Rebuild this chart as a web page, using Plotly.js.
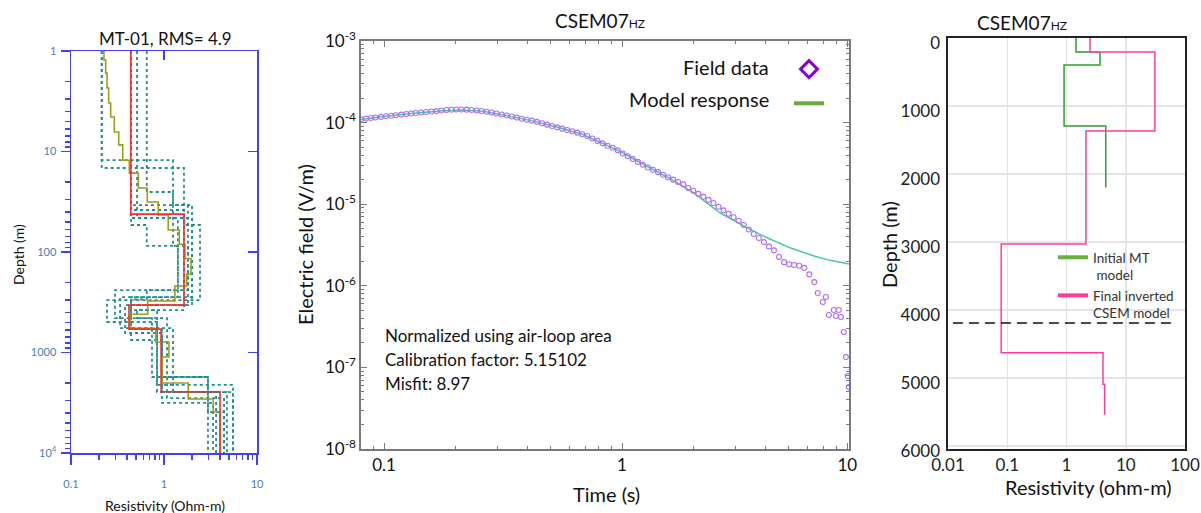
<!DOCTYPE html>
<html><head><meta charset="utf-8">
<script src="https://cdn.plot.ly/plotly-3.0.1.min.js"></script>
<style>html,body{margin:0;padding:0;background:#fff}#chart{width:1201px;height:513px}</style>
</head><body><div id="chart"></div>
<script>
// ---------- Panel 1 : MT-01 1D models (resistivity per layer, layer-bottom depths) ----------
const mtFinalRho = [0.44, 1.64, 0.42, 0.93, 4.0];
const mtFinalDepth = [42, 337, 585, 2460];
const mtSmoothRho = [0.226,0.236,0.244,0.254,0.267,0.292,0.326,0.360,0.424,0.530,0.661,0.869,1.11,1.46,1.68,1.95,1.75,1.31,0.668,0.43,0.815,1.13,0.96,1.82,3.39,4.0];
const mtSmoothDepth = [1.23,1.66,2.33,3.29,4.54,6.4,8.6,12.2,16.4,23.1,31.8,42.8,60.4,83.8,116,167,218,307,417,575,786,1109,2010,2900,3910];
const mtSampleRho = [
  [0.214,1.25,1.81,0.297,0.743,2.97],
  [0.214,1.64,2.44,0.244,0.841,5.52],
  [0.652,1.25,1.41,0.337,1.25,4.75],
  [0.442,2.0,0.381,0.951,3.37],
  [0.442,1.64,0.513,1.077,4.42],
  [0.442,2.0,0.442,0.841,3.63],
  [0.513,1.41,0.652,0.442,0.951,2.97,4.42],
  [0.442,0.652,1.81,0.442,0.951,5.52]
];
const mtSampleDepth = [
  [12.2,34,239,454,1754],
  [14.6,53.9,301,497,2104],
  [25.3,87,281,571,2474],
  [34.1,337,640,3177],
  [38.2,378,454,2838],
  [45.9,281,378,2474],
  [45.9,239,297,571,1754,3909],
  [53.9,87,337,751,2474]
];
const mtTop = 1, mtBottom = 10000;
const mtRhoTicks = [0.1, 1, 10];
const mtRhoTickText = ['0.1', '1', '10'];
const mtDepthTicks = [1, 10, 100, 1000, 10000];
const mtDepthTickText = ['1', '10', '100', '1000', '10<sup>4</sup>'];

// ---------- Panel 2 : CSEM07 HZ transient ----------
const fieldTime = [0.080,0.084,0.088,0.092,0.097,0.102,0.107,0.112,0.118,0.124,0.130,0.136,0.143,0.150,0.158,0.166,0.174,0.183,0.192,0.201,0.211,0.222,0.233,0.245,0.257,0.270,0.283,0.297,0.312,0.328,0.344,0.361,0.379,0.398,0.418,0.439,0.461,0.484,0.508,0.534,0.560,0.588,0.618,0.649,0.681,0.715,0.751,0.789,0.828,0.870,0.913,0.959,1.007,1.057,1.110,1.166,1.224,1.285,1.350,1.417,1.488,1.562,1.640,1.722,1.808,1.899,1.994,2.093,2.198,2.308,2.423,2.544,2.672,2.805,2.945,3.093,3.247,3.410,3.580,3.759,3.947,4.145,4.352,4.570,4.798,5.038,5.290,5.554,5.832,6.124,6.43,6.65,6.98,7.19,7.40,7.77,7.92,8.15,8.32,8.55,8.73,8.88,8.98];
const fieldE = [1.102e-4,1.119e-4,1.138e-4,1.153e-4,1.175e-4,1.194e-4,1.213e-4,1.233e-4,1.253e-4,1.274e-4,1.294e-4,1.312e-4,1.330e-4,1.346e-4,1.365e-4,1.384e-4,1.406e-4,1.426e-4,1.439e-4,1.445e-4,1.449e-4,1.442e-4,1.429e-4,1.409e-4,1.387e-4,1.358e-4,1.327e-4,1.294e-4,1.259e-4,1.222e-4,1.186e-4,1.151e-4,1.117e-4,1.084e-4,1.057e-4,1.021e-4,9.82e-5,9.44e-5,9.10e-5,8.75e-5,8.43e-5,8.13e-5,7.82e-5,7.53e-5,7.21e-5,6.84e-5,6.38e-5,5.97e-5,5.57e-5,5.21e-5,4.91e-5,4.57e-5,4.19e-5,3.87e-5,3.58e-5,3.30e-5,3.05e-5,2.82e-5,2.64e-5,2.47e-5,2.30e-5,2.14e-5,2.00e-5,1.87e-5,1.75e-5,1.58e-5,1.46e-5,1.34e-5,1.23e-5,1.13e-5,1.035e-5,9.31e-6,8.41e-6,7.62e-6,6.92e-6,6.28e-6,5.56e-6,4.89e-6,4.32e-6,3.85e-6,3.43e-6,3.04e-6,2.72e-6,2.26e-6,1.95e-6,1.84e-6,1.80e-6,1.76e-6,1.66e-6,1.38e-6,1.11e-6,8.17e-7,6.32e-7,7.29e-7,4.39e-7,5.05e-7,4.27e-7,5.05e-7,4.15e-7,2.72e-7,1.34e-7,7.85e-8,5.75e-8];
const modelTime = [0.080,0.100,0.130,0.170,0.210,0.260,0.330,0.420,0.540,0.680,0.850,1.00,1.25,1.60,2.00,2.59,3.37,4.09,5.12,6.40,7.50,9.00];
const modelE = [1.09e-4,1.19e-4,1.29e-4,1.39e-4,1.43e-4,1.38e-4,1.21e-4,1.05e-4,8.7e-5,7.2e-5,5.4e-5,4.3e-5,3.0e-5,2.04e-5,1.38e-5,7.8e-6,5.1e-6,3.85e-6,2.9e-6,2.32e-6,2.05e-6,1.85e-6];
const timeTicks = [0.1, 1, 8.85];
const timeTickText = ['0.1', '1', '10'];
const eTicks = [1e-8, 1e-7, 1e-6, 1e-5, 1e-4, 1e-3];
const eTickText = ['10<sup>-8</sup>','10<sup>-7</sup>','10<sup>-6</sup>','10<sup>-5</sup>','10<sup>-4</sup>','10<sup>-3</sup>'];
const infoLines = ['Normalized using air-loop area', 'Calibration factor: 5.15102', 'Misfit: 8.97'];

// ---------- Panel 3 : CSEM07 HZ models ----------
const initRho = [1.45, 3.67, 0.91, 4.6];
const initDepth = [206, 397, 1294];
const initTop = 0, initBottom = 2200;
const finalRho = [2.49, 31, 2.13, 0.079, 4.13, 4.4];
const finalDepth = [206, 1367, 3030, 4630, 5090];
const finalTop = 0, finalBottom = 5540;
const boundaryDepth = [4190, 4190];
const boundaryRho = [0.0121, 73];
const resTicks = [0.01, 0.1, 1, 10, 100];
const resTickText = ['0.01', '0.1', '1', '10', '100'];
const depthTicks = [0, 1000, 2000, 3000, 4000, 5000, 6000];

// ---------- helpers ----------
const W = 1201, H = 513;
const px = v => v / W;
const py = v => 1 - v / H;
function steps(rho, bounds, top, bottom) {
  return { x: rho.concat([rho[rho.length - 1]]), y: [top].concat(bounds, [bottom]) };
}
function minorVals(lo, hi) {
  const out = [];
  for (let e = lo; e < hi; e++) for (let m = 2; m <= 9; m++) out.push(+(m * Math.pow(10, e)).toPrecision(3));
  return out;
}

const BLUE = '#3f3fff', TICKBLUE = '#4a7ebb', GRAY = '#7a7a7a';
const traces = [];

// Panel 1 traces
mtSampleRho.forEach((r, i) => {
  const s = steps(r, mtSampleDepth[i], mtTop, mtBottom);
  traces.push({x: s.x, y: s.y, xaxis: 'x', yaxis: 'y', mode: 'lines', line: {shape: 'vh', color: '#1f8e8e', width: 1.8, dash: 'dot'}, showlegend: false, hoverinfo: 'skip'});
});
(function(){
  const s = steps(mtSmoothRho, mtSmoothDepth, mtTop, mtBottom);
  traces.push({x: s.x, y: s.y, xaxis: 'x', yaxis: 'y', mode: 'lines', line: {shape: 'vh', color: '#9c9c1e', width: 1.6}, showlegend: false});
  const f = steps(mtFinalRho, mtFinalDepth, mtTop, mtBottom);
  traces.push({x: f.x, y: f.y, xaxis: 'x', yaxis: 'y', mode: 'lines', line: {shape: 'vh', color: '#ff2a2a', width: 1.6}, showlegend: false});
})();
// helpers for top/right tick axes of panel 1
traces.push({x: [null], y: [null], xaxis: 'x4', yaxis: 'y', showlegend: false, hoverinfo: 'skip'});
traces.push({x: [null], y: [null], xaxis: 'x', yaxis: 'y4', showlegend: false, hoverinfo: 'skip'});

// Panel 2 traces
traces.push({x: modelTime, y: modelE, xaxis: 'x2', yaxis: 'y2', mode: 'lines', line: {color: '#46c9a2', width: 1.5}, showlegend: false});
traces.push({x: fieldTime, y: fieldE, xaxis: 'x2', yaxis: 'y2', mode: 'markers', marker: {symbol: 'circle-open', size: 5, color: '#b06ef0', line: {width: 1.1}}, showlegend: false});
// legend entries (symbols only; labels are annotations)
traces.push({x: [null], y: [null], xaxis: 'x2', yaxis: 'y2', mode: 'markers', name: ' ', legend: 'legend', marker: {symbol: 'diamond-open', size: 13, color: '#8a00d4', line: {width: 3, color: '#8a00d4'}}});
traces.push({x: [null], y: [null], xaxis: 'x2', yaxis: 'y2', mode: 'lines', name: ' ', legend: 'legend', line: {color: '#6aaa3c', width: 4}});

// Panel 3 traces
(function(){
  const a = steps(initRho, initDepth, initTop, initBottom);
  traces.push({x: a.x, y: a.y, xaxis: 'x3', yaxis: 'y3', mode: 'lines', line: {shape: 'vh', color: '#2e9e2e', width: 1.5}, showlegend: false});
  const b = steps(finalRho, finalDepth, finalTop, finalBottom);
  traces.push({x: b.x, y: b.y, xaxis: 'x3', yaxis: 'y3', mode: 'lines', line: {shape: 'vh', color: '#ff3c9e', width: 1.5}, showlegend: false});
  traces.push({x: boundaryRho, y: boundaryDepth, xaxis: 'x3', yaxis: 'y3', mode: 'lines', line: {color: '#111', width: 1.5, dash: '10px,6px'}, showlegend: false});
  traces.push({x: [null], y: [null], xaxis: 'x3', yaxis: 'y3', mode: 'lines', name: 'Initial MT<br> model', legend: 'legend2', line: {color: '#6cb040', width: 4}});
  traces.push({x: [null], y: [null], xaxis: 'x3', yaxis: 'y3', mode: 'lines', name: 'Final inverted<br>CSEM model', legend: 'legend2', line: {color: '#ff3c9e', width: 4}});
})();

const ann = (text, x, y, size, opts) => Object.assign({text, x: px(x), y: py(y), xref: 'paper', yref: 'paper', showarrow: false, font: {size, color: '#111'}, xanchor: 'center', yanchor: 'middle'}, opts || {});

const annotations = [
  ann('MT-01, RMS= 4.9', 165, 38, 17),
  ann('Depth (m)', 19, 255, 14, {textangle: -90}),
  ann('Resistivity (Ohm-m)', 165, 505, 14),
  ann('CSEM07<span style="font-size:12px">HZ</span>', 600, 20, 19),
  ann('Electric field (V/m)', 305, 245, 20, {textangle: -90}),
  ann('Time (s)', 606, 494, 20),
  ann(infoLines[0], 383, 335, 17, {xanchor: 'left'}),
  ann(infoLines[1], 383, 359, 17, {xanchor: 'left'}),
  ann(infoLines[2], 383, 383, 17, {xanchor: 'left'}),
  ann('Field data', 771, 67, 20, {xanchor: 'right'}),
  ann('Model response', 771, 99, 20, {xanchor: 'right'}),
  ann('CSEM07<span style="font-size:12px">HZ</span>', 1022, 23, 19),
  ann('Depth (m)', 889, 245, 20, {textangle: -90}),
  ann('Resistivity (ohm-m)', 1088, 487, 20)
];

const layout = {
  width: W, height: H,
  margin: {l: 0, r: 0, t: 0, b: 0},
  paper_bgcolor: '#fff', plot_bgcolor: 'rgba(0,0,0,0)',
  font: {family: 'Lato, "Open Sans", sans-serif', color: '#111'},
  showlegend: true,
  annotations,
  // Panel 1
  xaxis: {domain: [px(71), px(257)], anchor: 'y', type: 'log', range: [-1, 1], autorange: false,
    tickmode: 'array', tickvals: mtRhoTicks, ticktext: mtRhoTickText, ticks: 'outside', ticklen: 10, tickwidth: 1.5, tickcolor: BLUE,
    minor: {tickmode: 'array', tickvals: minorVals(-1, 1), ticks: 'outside', ticklen: 5, tickwidth: 1.5, tickcolor: BLUE, showgrid: false},
    showline: true, linecolor: BLUE, linewidth: 1.5, mirror: true, showgrid: false, zeroline: false,
    tickfont: {size: 11, color: TICKBLUE}, ticklabelstandoff: 10},
  yaxis: {domain: [py(453), py(51)], anchor: 'x', type: 'log', range: [4, 0], autorange: false,
    tickmode: 'array', tickvals: mtDepthTicks, ticktext: mtDepthTickText, ticks: 'outside', ticklen: 9, tickwidth: 1.5, tickcolor: BLUE,
    minor: {tickmode: 'array', tickvals: minorVals(0, 4), ticks: 'outside', ticklen: 5, tickwidth: 1.5, tickcolor: BLUE, showgrid: false},
    showline: true, linecolor: BLUE, linewidth: 1.5, mirror: true, showgrid: false, zeroline: false,
    tickfont: {size: 11, color: TICKBLUE}, ticklabelstandoff: 2},
  xaxis4: {overlaying: 'x', anchor: 'y', side: 'top', type: 'log', range: [-1, 1], autorange: false,
    tickmode: 'array', tickvals: [1], ticks: 'inside', ticklen: 9, tickwidth: 1.5, tickcolor: BLUE,
    showticklabels: false, showline: false, showgrid: false, zeroline: false},
  yaxis4: {overlaying: 'y', anchor: 'x', side: 'right', type: 'log', range: [4, 0], autorange: false,
    tickmode: 'array', tickvals: [10, 100, 1000], ticks: 'inside', ticklen: 9, tickwidth: 1.5, tickcolor: BLUE,
    showticklabels: false, showline: false, showgrid: false, zeroline: false},
  // Panel 2
  xaxis2: {domain: [px(361), px(849)], anchor: 'y2', type: 'log', range: [-1.097, 0.954], autorange: false,
    tickmode: 'array', tickvals: timeTicks, ticktext: timeTickText, ticks: 'inside', ticklen: 6, tickwidth: 1, tickcolor: GRAY,
    minor: {tickmode: 'array', tickvals: minorVals(-2, 1), ticks: 'inside', ticklen: 3, tickwidth: 1, tickcolor: GRAY, showgrid: false},
    showline: true, linecolor: GRAY, linewidth: 1.6, mirror: 'ticks', showgrid: false, zeroline: false,
    tickfont: {size: 17, color: '#111'}},
  yaxis2: {domain: [py(449), py(41)], anchor: 'x2', type: 'log', range: [-8, -3], autorange: false,
    tickmode: 'array', tickvals: eTicks, ticktext: eTickText, ticks: 'inside', ticklen: 6, tickwidth: 1, tickcolor: GRAY,
    minor: {tickmode: 'array', tickvals: minorVals(-8, -3), ticks: 'inside', ticklen: 3, tickwidth: 1, tickcolor: GRAY, showgrid: false},
    showline: true, linecolor: GRAY, linewidth: 1.6, mirror: 'ticks', showgrid: false, zeroline: false,
    tickfont: {size: 17, color: '#111'}},
  // Panel 3
  xaxis3: {domain: [px(948), px(1185)], anchor: 'y3', type: 'log', range: [-2, 2], autorange: false,
    tickmode: 'array', tickvals: resTicks, ticktext: resTickText, ticks: '',
    showline: true, linecolor: '#222', linewidth: 1.6, mirror: true, showgrid: true, gridcolor: '#e4e4e4', gridwidth: 1.5, zeroline: false,
    tickfont: {size: 17, color: '#222'}},
  yaxis3: {domain: [py(449), py(38)], anchor: 'x3', range: [6044, 0], autorange: false,
    tickmode: 'array', tickvals: depthTicks, ticks: '',
    showline: true, linecolor: '#222', linewidth: 1.6, mirror: true, showgrid: true, gridcolor: '#e4e4e4', gridwidth: 1.5, zeroline: false,
    tickfont: {size: 17, color: '#222'}, ticklabelstandoff: 3, ticklabelshift: -5},
  legend: {x: px(789), y: py(47), xanchor: 'left', yanchor: 'top', font: {size: 24}, bgcolor: 'rgba(0,0,0,0)', borderwidth: 0},
  legend2: {x: px(1053), y: py(242), xanchor: 'left', yanchor: 'top', font: {size: 13.5, color: '#333'}, valign: 'top', bgcolor: 'rgba(0,0,0,0)', borderwidth: 0}
};

Plotly.newPlot('chart', traces, layout, {displayModeBar: false, staticPlot: true});
</script>
</body></html>
